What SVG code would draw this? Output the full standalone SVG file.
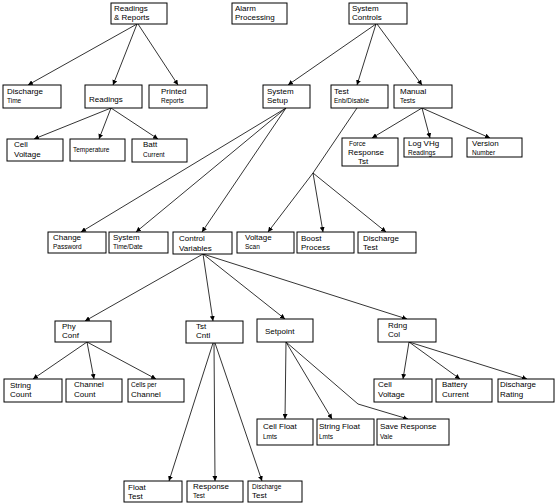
<svg xmlns="http://www.w3.org/2000/svg" width="557" height="503" viewBox="0 0 557 503">
<defs>
<marker id="ah" markerWidth="6" markerHeight="5" refX="5" refY="2.5" orient="auto" markerUnits="userSpaceOnUse">
<path d="M0,0 L5,2.5 L0,5 z" fill="#000"/>
</marker>
<style>
rect{fill:#fff;stroke:#000;stroke-width:1}
text{font-family:"Liberation Sans","DejaVu Sans",sans-serif;font-size:8px;fill:#000}
text.s{font-size:6.5px}
#edges path{fill:none;stroke:#000;stroke-width:0.8;marker-end:url(#ah)}
#edges path.n{marker-end:none}
</style>
</defs>
<rect x="0" y="0" width="557" height="503" style="stroke:none"/>
<g id="edges">
<path d="M137,24 L28,85"/>
<path d="M137,24 L113,85"/>
<path d="M138,24 L178,85"/>
<path d="M111,108 L34,139"/>
<path d="M111,108 L99,139"/>
<path d="M111,108 L158,139"/>
<path d="M376,24 L288,85"/>
<path d="M376,24 L357,85"/>
<path d="M377,24 L422,85"/>
<path d="M422,108 L372,138"/>
<path d="M422,108 L430,138"/>
<path d="M422,108 L490,138"/>
<path d="M286,108 L81,232"/>
<path d="M286,108 L136,232"/>
<path d="M286,108 L202,232"/>
<path class="n" d="M357,108 L313,173"/>
<path d="M313,173 L268,232"/>
<path d="M313,173 L323,232"/>
<path d="M313,173 L386,232"/>
<path d="M203,254 L85,321"/>
<path d="M203,254 L213,321"/>
<path d="M203,254 L285,319"/>
<path d="M203,254 L407,319"/>
<path d="M87,342 L33,379"/>
<path d="M87,342 L94,379"/>
<path d="M87,342 L156,379"/>
<path d="M213,343 L169,481"/>
<path d="M214,343 L215,481"/>
<path d="M215,343 L262,481"/>
<path d="M286,342 L285,419"/>
<path d="M286,342 L332,419"/>
<path d="M286,342 L358,404 L408,419"/>
<path d="M409,342 L403,379"/>
<path d="M409,342 L460,379"/>
<path d="M409,342 L527,379"/>
</g>
<g id="rr"><rect x="111" y="3" width="56" height="21"/><text x="114" y="11">Readings</text><text x="114" y="20">&amp; Reports</text></g>
<g id="ap"><rect x="232" y="3" width="55" height="21"/><text x="235" y="11">Alarm</text><text x="235" y="20">Processing</text></g>
<g id="sc"><rect x="349" y="3" width="58" height="21"/><text x="352" y="11">System</text><text x="352" y="20">Controls</text></g>
<g id="dt"><rect x="3" y="85" width="58" height="23"/><text x="7" y="94">Discharge</text><text class="s" x="7" y="103">Time</text></g>
<g id="rd"><rect x="85" y="85" width="57" height="23"/><text x="89" y="102">Readings</text></g>
<g id="pr"><rect x="149" y="85" width="58" height="23"/><text x="161" y="94">Printed</text><text class="s" x="161" y="103">Reports</text></g>
<g id="ss"><rect x="263" y="85" width="47" height="23"/><text x="267" y="94">System</text><text x="267" y="103">Setup</text></g>
<g id="te"><rect x="331" y="85" width="57" height="23"/><text x="334" y="94">Test</text><text class="s" x="334" y="103">Enb/Disable</text></g>
<g id="mt"><rect x="394" y="85" width="58" height="23"/><text x="400" y="94">Manual</text><text class="s" x="400" y="103">Tests</text></g>
<g id="cv"><rect x="7" y="139" width="56" height="22"/><text x="14" y="147">Cell</text><text x="14" y="157">Voltage</text></g>
<g id="tp"><rect x="70" y="139" width="55" height="22"/><text class="s" x="73" y="152">Temperature</text></g>
<g id="bc"><rect x="132" y="139" width="55" height="23"/><text x="143" y="147">Batt</text><text class="s" x="143" y="157">Current</text></g>
<g id="fr"><rect x="342" y="138" width="56" height="28"/><text class="s" x="349" y="146">Force</text><text x="348" y="155">Response</text><text x="358" y="164">Tst</text></g>
<g id="lv"><rect x="404" y="138" width="48" height="19"/><text x="408" y="146">Log VHg</text><text class="s" x="408" y="155">Readings</text></g>
<g id="vn"><rect x="467" y="138" width="55" height="19"/><text x="472" y="146">Version</text><text class="s" x="472" y="155">Number</text></g>
<g id="cp"><rect x="48" y="232" width="58" height="21"/><text x="53" y="240">Change</text><text class="s" x="53" y="249">Password</text></g>
<g id="std"><rect x="109" y="232" width="59" height="21"/><text x="113" y="240">System</text><text class="s" x="113" y="249">Time/Date</text></g>
<g id="cvr"><rect x="173" y="232" width="59" height="22"/><text x="179" y="241">Control</text><text x="179" y="251">Variables</text></g>
<g id="vs"><rect x="237" y="232" width="57" height="21"/><text x="245" y="240">Voltage</text><text class="s" x="245" y="249">Scan</text></g>
<g id="bp"><rect x="297" y="232" width="57" height="21"/><text x="301" y="241">Boost</text><text x="301" y="250">Process</text></g>
<g id="dte"><rect x="358" y="232" width="58" height="21"/><text x="363" y="241">Discharge</text><text x="363" y="250">Test</text></g>
<g id="pc"><rect x="55" y="321" width="56" height="21"/><text x="62" y="329">Phy</text><text x="62" y="338">Conf</text></g>
<g id="tc"><rect x="186" y="321" width="57" height="22"/><text x="196" y="329">Tst</text><text x="196" y="338">Cntl</text></g>
<g id="sp"><rect x="257" y="319" width="56" height="23"/><text x="265" y="334">Setpoint</text></g>
<g id="rc"><rect x="378" y="319" width="58" height="23"/><text x="388" y="328">Rdng</text><text x="388" y="337">Col</text></g>
<g id="sco"><rect x="4" y="379" width="58" height="23"/><text x="10" y="388">String</text><text x="10" y="397">Count</text></g>
<g id="cc"><rect x="66" y="379" width="56" height="23"/><text x="74" y="387">Channel</text><text x="74" y="397">Count</text></g>
<g id="cpc"><rect x="128" y="379" width="56" height="23"/><text class="s" x="131" y="387">Cells per</text><text x="131" y="397">Channel</text></g>
<g id="cv2"><rect x="374" y="379" width="58" height="23"/><text x="378" y="387">Cell</text><text x="378" y="397">Voltage</text></g>
<g id="btc"><rect x="436" y="379" width="56" height="23"/><text x="442" y="387">Battery</text><text x="442" y="397">Current</text></g>
<g id="dr"><rect x="498" y="379" width="56" height="23"/><text x="500" y="387">Discharge</text><text x="500" y="397">Rating</text></g>
<g id="cfl"><rect x="257" y="419" width="56" height="26"/><text x="263" y="429">Cell Float</text><text class="s" x="263" y="439">Lmts</text></g>
<g id="sfl"><rect x="317" y="419" width="57" height="26"/><text x="319" y="429">String Float</text><text class="s" x="319" y="439">Lmts</text></g>
<g id="srv"><rect x="377" y="419" width="72" height="26"/><text x="380" y="429">Save Response</text><text class="s" x="380" y="439">Vale</text></g>
<g id="ft"><rect x="124" y="481" width="58" height="21"/><text x="128" y="490">Float</text><text x="128" y="499">Test</text></g>
<g id="rt"><rect x="187" y="481" width="56" height="21"/><text x="193" y="489">Response</text><text class="s" x="193" y="498">Test</text></g>
<g id="dt2"><rect x="248" y="481" width="54" height="21"/><text class="s" x="252" y="489">Discharge</text><text x="252" y="498">Test</text></g>
</svg>
